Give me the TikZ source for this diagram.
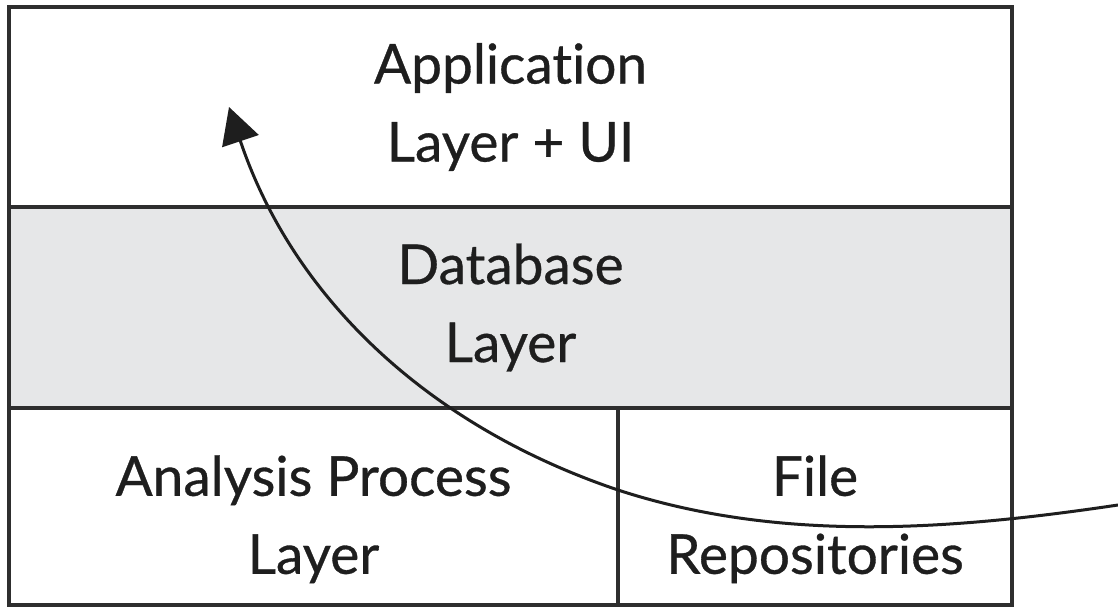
\documentclass[tikz,border=0pt]{standalone}
\usepackage{fontspec}
\setmainfont{Lato}[Ligatures=NoCommon, FakeBold=0.6]
\usetikzlibrary{arrows.meta}
\definecolor{edge}{HTML}{2E2E2E}
\definecolor{band}{HTML}{E6E7E8}
\definecolor{ink}{HTML}{1E1E1E}
\begin{document}
\begin{tikzpicture}[x=1pt,y=-1pt,
  cell/.style={draw=edge, line width=3.5pt, inner sep=0pt, align=center,
    font=\fontsize{55}{78}\selectfont, text=ink},
  flow/.style={draw=ink, line width=3pt, -{Triangle[length=36pt,width=38pt]}}]
\useasboundingbox[fill=white] (0,0) rectangle (1118,607);
\node[cell, minimum width=1003pt, minimum height=200pt] (app) at (510.5,107) {Application\\Layer + UI};
\node[cell, fill=band, minimum width=1003pt, minimum height=201pt] (db) at (510.5,307.5) {Database\\Layer};
\node[cell, minimum width=609pt, minimum height=197pt] (ana) at (313.5,506.5) {\rule{0pt}{66pt}Analysis Process\\Layer};
\node[cell, minimum width=394pt, minimum height=197pt] (files) at (815,506.5) {\rule{0pt}{66pt}File\\Repositories};
\coordinate (src) at (1118,505);
\coordinate (mid) at (618,490);
\coordinate (tip) at (229,107);
\draw[flow] (src) .. controls (950,530) and (780,543) .. (mid)
  .. controls (425,425) and (292,295) .. (tip);
\end{tikzpicture}
\end{document}
